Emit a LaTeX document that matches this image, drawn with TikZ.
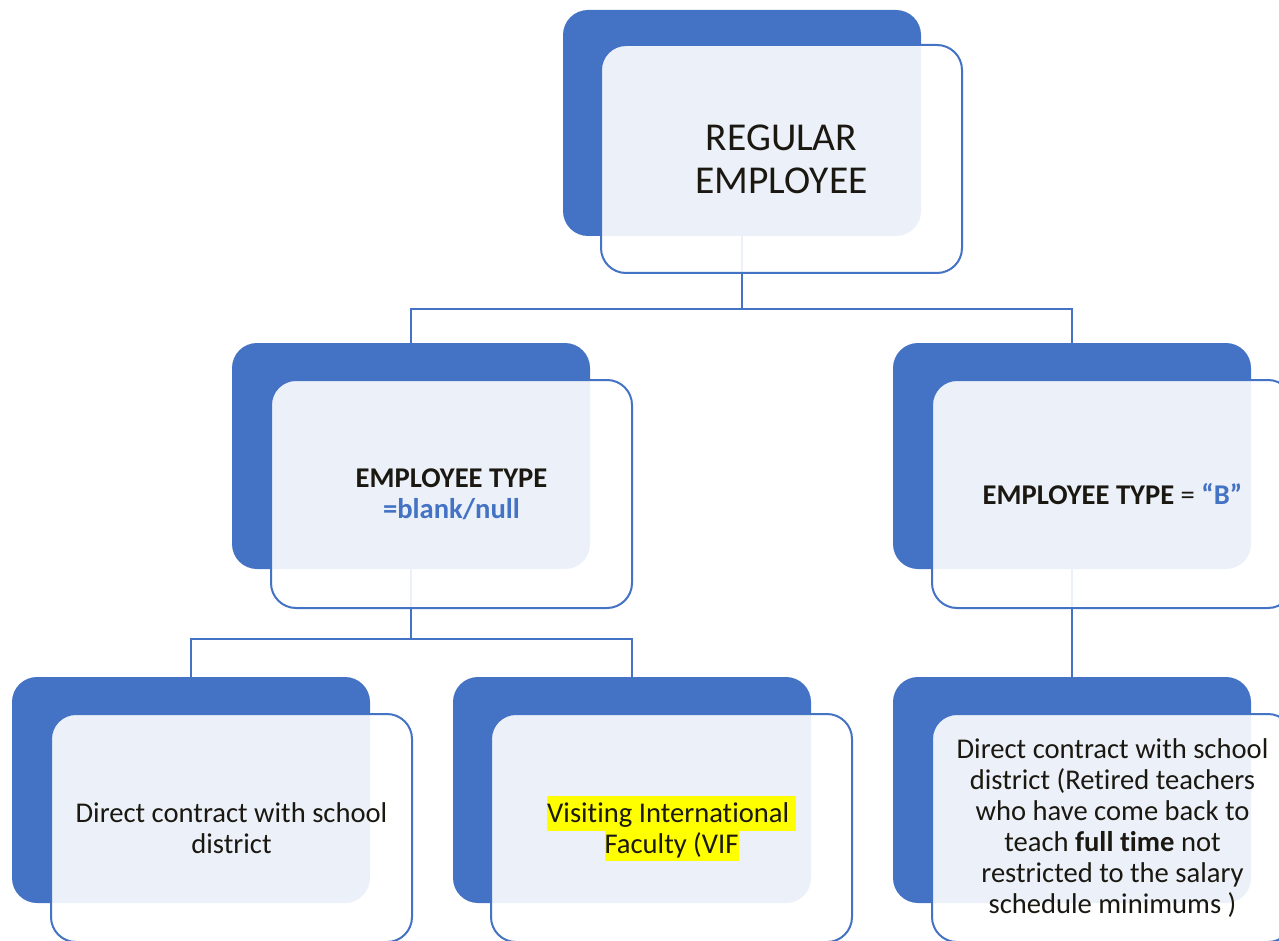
\documentclass[tikz,border=0pt]{standalone}
\usepackage{fontspec}
\setmainfont[Ligatures={NoCommon}]{Carlito}
\definecolor{myblue}{HTML}{4472C4}
\definecolor{txt}{HTML}{1A1810}
\definecolor{hly}{HTML}{FFFF00}
\begin{document}
\begin{tikzpicture}[x=1pt,y=-1pt,
 backbox/.style={rectangle, rounded corners=25pt, minimum width=358pt, minimum height=226pt, fill=myblue, inner sep=0pt, outer sep=0pt, anchor=north west},
 frontbox/.style={rectangle, rounded corners=25pt, minimum width=361pt, minimum height=228pt, draw=myblue, line width=2pt, fill=white, fill opacity=0.9, text opacity=1, inner sep=0pt, outer sep=0pt, anchor=north west, align=center, text=txt, font=\fontsize{28.6}{31}\selectfont},
 conn/.style={draw=myblue, line width=2.2pt}]
\useasboundingbox (0,0) rectangle (1279,941);
\begin{scope}
\clip (0,0) rectangle (1279,941);
% back boxes
\node[backbox] (topb) at (563,10) {};
\node[backbox] (lb) at (232,343) {};
\node[backbox] (rb) at (893,343) {};
\node[backbox] (blb) at (12,677) {};
\node[backbox] (bmb) at (453,677) {};
\node[backbox] (brb) at (893,677) {};
% connectors
\draw[conn] (topb.south) -- ++(0,73) coordinate (tj) -| (lb.north);
\draw[conn] (tj) -| (rb.north);
\draw[conn] (lb.south) -- ++(0,70) coordinate (lj) -| (blb.north);
\draw[conn] (lj) -| (bmb.north);
\draw[conn] (rb.south) -- (brb.north);
% front boxes
\node[frontbox, font=\fontsize{39.5}{43}\selectfont] (topf) at (601,45) {REGULAR\\EMPLOYEE};
\node[frontbox] (lf) at (271,380) {\bfseries EMPLOYEE TYPE\\\textcolor{myblue}{\bfseries =blank/null}};
\node[frontbox] (rf) at (932,380) {\textbf{EMPLOYEE TYPE} = \textcolor{myblue}{\bfseries “B”}};
\node[frontbox] (blf) at (51,714) {Direct contract with school\\district};
\node[frontbox] (bmf) at (491,714) {\setlength{\fboxsep}{0pt}\colorbox{hly}{\rule[-8pt]{0pt}{35pt}Visiting International\ }\\\setlength{\fboxsep}{0pt}\colorbox{hly}{\rule[-7pt]{0pt}{30pt}Faculty (VIF}};
\node[frontbox] (brf) at (932,714) {Direct contract with school\\district (Retired teachers\\who have come back to\\teach \textbf{full time} not\\restricted to the salary\\schedule minimums )};
\end{scope}
\end{tikzpicture}
\end{document}
